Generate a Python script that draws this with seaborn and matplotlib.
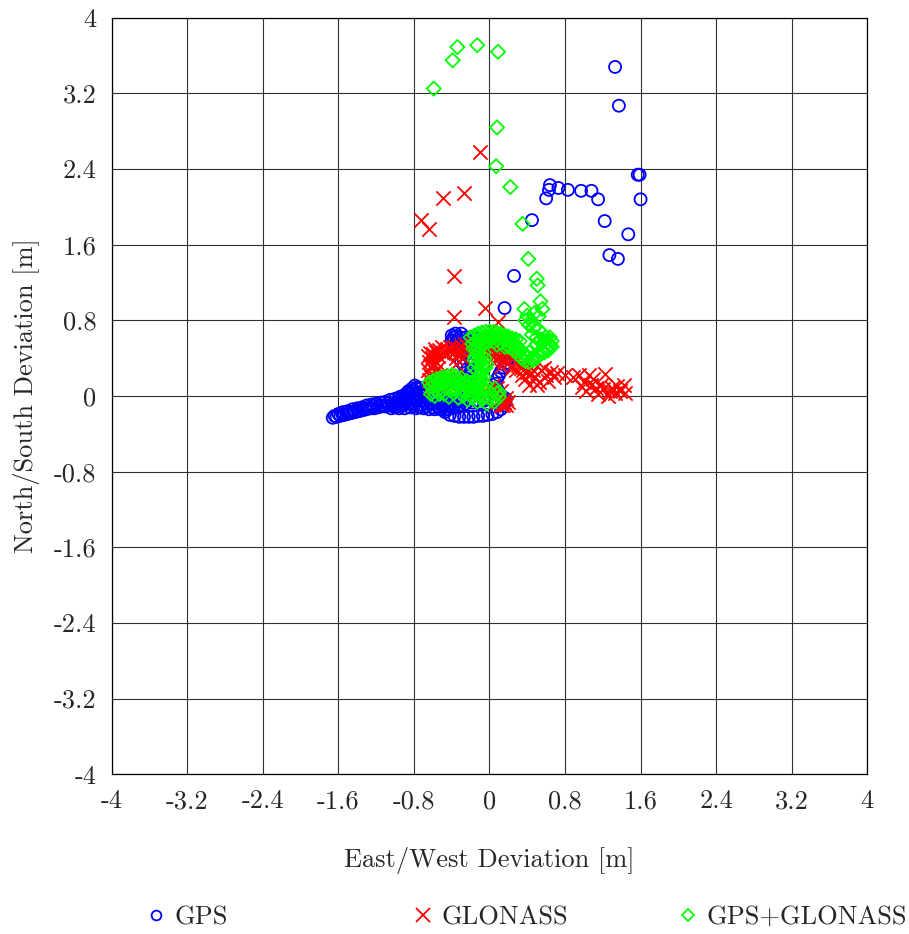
#%%
import pandas as pd
import numpy as np
import matplotlib.pyplot as plt
import seaborn as sns
#%% data (East/West, North/South in metres)
gps_pts = [
    # scattered fixes
    (1.33, 3.48), (1.37, 3.07), (1.57, 2.34), (1.59, 2.34), (1.60, 2.08), (0.64, 2.23),
    (0.63, 2.18), (0.73, 2.20), (0.83, 2.18), (0.97, 2.17), (1.08, 2.17), (1.15, 2.08),
    (0.60, 2.09), (0.45, 1.86), (1.22, 1.85), (1.47, 1.71), (1.27, 1.49), (1.36, 1.45),
    (0.26, 1.27), (0.16, 0.93),
    # tail, lower track
    (-1.66, -0.23), (-1.62, -0.22), (-1.58, -0.21), (-1.54, -0.20), (-1.50, -0.19),
    (-1.46, -0.18), (-1.42, -0.17), (-1.38, -0.16), (-1.34, -0.15), (-1.30, -0.14),
    (-1.26, -0.13), (-1.22, -0.13), (-1.18, -0.12), (-1.14, -0.11), (-1.10, -0.11),
    (-1.06, -0.10), (-1.02, -0.10), (-0.98, -0.09), (-0.94, -0.09), (-0.90, -0.08),
    (-0.86, -0.08), (-0.82, -0.08),
    # tail, upper track
    (-1.60, -0.19), (-1.55, -0.17), (-1.50, -0.16), (-1.45, -0.14), (-1.40, -0.13),
    (-1.35, -0.12), (-1.30, -0.10), (-1.25, -0.09), (-1.20, -0.08), (-1.15, -0.07),
    (-1.10, -0.06), (-1.05, -0.04), (-1.00, -0.03), (-0.95, -0.01), (-0.90, 0.01),
    (-0.86, 0.03), (-0.82, 0.05), (-0.78, 0.08),
    # tail, middle track
    (-1.64, -0.21), (-1.56, -0.19), (-1.48, -0.17), (-1.40, -0.15), (-1.32, -0.13),
    (-1.24, -0.11), (-1.16, -0.10), (-1.08, -0.08), (-1.04, -0.13), (-1.00, -0.12),
    (-0.96, -0.13),
    # blob
    (-0.98, -0.06), (-0.94, -0.04), (-0.92, -0.10), (-0.88, -0.02), (-0.86, -0.08),
    (-0.84, 0.02), (-0.82, -0.04), (-0.80, -0.10), (-0.78, 0.02), (-0.76, 0.09),
    (-0.76, -0.05), (-0.74, 0.04), (-0.72, -0.09), (-0.70, 0.00), (-0.68, -0.05),
    (-0.66, -0.11), (-0.64, -0.02), (-0.62, -0.07), (-0.60, -0.12), (-0.58, -0.03),
    (-0.56, -0.08), (-0.54, -0.12), (-0.52, -0.04), (-0.50, -0.09), (-0.48, -0.12),
    (-0.46, -0.06), (-0.43, -0.10), (-0.40, -0.07), (-0.37, -0.10), (-0.34, -0.06),
    (-0.31, -0.09), (-0.28, -0.05), (-0.25, -0.08), (-0.22, -0.04), (-0.18, -0.07),
    (-0.14, -0.05), (-0.10, -0.07), (-0.06, -0.05),
    (-1.00, -0.08), (-0.96, -0.02), (-0.92, 0.00), (-0.90, -0.13), (-0.88, -0.05),
    (-0.86, 0.05), (-0.84, -0.12), (-0.82, 0.08), (-0.80, -0.02), (-0.79, 0.11),
    (-0.78, -0.13), (-0.76, 0.00), (-0.74, -0.12), (-0.73, 0.08), (-0.71, 0.04),
    (-0.70, -0.13), (-0.68, 0.02), (-0.66, -0.08), (-0.64, -0.14), (-0.62, -0.01),
    (-0.60, -0.08), (-0.58, -0.14), (-0.56, -0.02), (-0.54, -0.06), (-0.52, -0.14),
    (-0.50, -0.02), (-0.48, -0.15), (-0.45, -0.03), (-0.44, -0.14), (-0.41, -0.04),
    (-0.39, -0.13), (-0.36, -0.04), (-0.33, -0.12), (-0.30, -0.03),
    # bottom loop
    (-0.47, -0.17), (-0.42, -0.20), (-0.37, -0.21), (-0.32, -0.22), (-0.27, -0.22),
    (-0.22, -0.22), (-0.17, -0.22), (-0.12, -0.21), (-0.07, -0.21), (-0.02, -0.20),
    (0.03, -0.19), (0.08, -0.17), (0.12, -0.14), (0.15, -0.10), (0.17, -0.06),
    (0.16, -0.02),
    # loop going up and round
    (-0.24, 0.04), (-0.24, 0.08), (-0.22, 0.13), (-0.21, 0.18), (-0.22, 0.23),
    (-0.24, 0.28), (-0.27, 0.32), (-0.30, 0.36), (-0.28, 0.40), (-0.25, 0.44),
    (-0.28, 0.48), (-0.32, 0.52), (-0.36, 0.56), (-0.40, 0.59), (-0.38, 0.62),
    (-0.35, 0.63), (-0.31, 0.62), (-0.25, 0.62), (-0.20, 0.62), (-0.15, 0.61),
    (-0.10, 0.60), (-0.05, 0.60), (0.00, 0.60), (0.05, 0.59), (0.10, 0.57),
    (0.14, 0.54), (0.17, 0.50), (0.19, 0.45), (0.20, 0.40), (0.18, 0.35),
    (0.15, 0.30), (0.12, 0.26), (0.10, 0.22), (0.08, 0.18), (0.07, 0.13),
    (0.08, 0.08), (0.10, 0.04), (0.13, 0.00),
    (-0.40, 0.64), (-0.38, 0.58), (-0.36, 0.66), (-0.33, 0.60), (-0.30, 0.66),
    (-0.28, 0.58), (-0.26, 0.18), (-0.19, 0.28), (-0.20, 0.38), (-0.17, 0.45),
]

glonass_pts = [
    # scattered fixes
    (-0.10, 2.58), (-0.49, 2.09), (-0.27, 2.15), (-0.73, 1.86), (-0.64, 1.77),
    (-0.38, 1.27), (-0.05, 0.93), (-0.38, 0.84), (0.09, 0.78),
    # left ring
    (-0.62, 0.12), (-0.64, 0.17), (-0.63, 0.22), (-0.65, 0.27), (-0.62, 0.31),
    (-0.64, 0.36), (-0.61, 0.40), (-0.60, 0.44), (-0.57, 0.47), (-0.53, 0.49),
    (-0.49, 0.46), (-0.45, 0.50), (-0.41, 0.48), (-0.38, 0.52), (-0.34, 0.50),
    (-0.60, 0.15), (-0.55, 0.16), (-0.50, 0.17), (-0.45, 0.18), (-0.40, 0.19),
    (-0.35, 0.20), (-0.58, 0.20), (-0.52, 0.22), (-0.55, 0.30), (-0.56, 0.35),
    (-0.36, 0.40), (-0.35, 0.34), (-0.65, 0.42), (-0.55, 0.42),
    (-0.63, 0.08), (-0.60, 0.10), (-0.56, 0.11), (-0.52, 0.12), (-0.48, 0.13),
    (-0.44, 0.13), (-0.40, 0.14), (-0.36, 0.15), (-0.32, 0.17), (-0.62, 0.20),
    (-0.58, 0.25), (-0.60, 0.34), (-0.63, 0.46), (-0.58, 0.50), (-0.50, 0.52),
    (-0.46, 0.45), (-0.42, 0.52), (-0.38, 0.47), (-0.33, 0.44), (-0.30, 0.48),
    (-0.28, 0.40),
    # top band and trail to the east
    (-0.30, 0.53), (-0.26, 0.55), (-0.22, 0.52), (-0.18, 0.55), (-0.14, 0.52),
    (-0.10, 0.55), (-0.06, 0.52), (-0.02, 0.54), (0.02, 0.55), (0.06, 0.52),
    (0.10, 0.50), (0.14, 0.48), (0.18, 0.45), (0.21, 0.42), (0.24, 0.39),
    (0.27, 0.36), (0.30, 0.33), (0.33, 0.30), (0.36, 0.27), (0.40, 0.25),
    (0.44, 0.23), (0.48, 0.20), (0.52, 0.15), (0.50, 0.12), (0.55, 0.28),
    (0.60, 0.22), (0.65, 0.25), (0.72, 0.24), (0.80, 0.22), (0.88, 0.20),
    (0.95, 0.22), (0.98, 0.10), (1.00, 0.15), (1.02, 0.05), (1.05, 0.22),
    (1.08, 0.12), (1.10, 0.18), (1.13, 0.08), (1.15, 0.02), (1.18, 0.12),
    (1.20, 0.07), (1.22, 0.23), (1.25, 0.00), (1.28, 0.05), (1.30, 0.09),
    (1.33, 0.03), (1.35, 0.11), (1.38, 0.05), (1.42, 0.12), (1.44, 0.03),
    (0.00, 0.45), (0.05, 0.42), (0.10, 0.40), (0.15, 0.38), (0.20, 0.35),
    (0.12, 0.32),
    (0.02, 0.50), (0.08, 0.46), (0.14, 0.44), (0.22, 0.46), (0.26, 0.42),
    (0.30, 0.38), (0.04, 0.36), (0.24, 0.30), (0.28, 0.27), (0.34, 0.22),
    (0.38, 0.18), (0.42, 0.12), (0.46, 0.28), (0.58, 0.30), (0.62, 0.16),
    (0.68, 0.20),
    # wedge near the origin
    (-0.05, 0.05), (0.00, 0.02), (0.05, 0.00), (0.10, -0.03), (0.15, -0.06),
    (0.12, 0.05), (0.08, 0.08), (0.18, -0.02), (0.14, -0.09),
    (-0.02, 0.10), (0.03, 0.06), (0.08, -0.06), (0.12, -0.10), (0.18, -0.10),
    (0.20, -0.06), (0.04, 0.12),
]

combo_pts = [
    # scattered fixes
    (-0.34, 3.69), (-0.13, 3.71), (0.09, 3.64), (-0.39, 3.55), (-0.59, 3.25),
    (0.08, 2.84), (0.07, 2.43), (0.22, 2.21), (0.35, 1.82), (0.41, 1.45),
    (0.50, 1.24), (0.51, 1.17), (0.54, 1.00), (0.37, 0.92),
    # loose group north-east of the origin
    (0.40, 0.85), (0.44, 0.80), (0.48, 0.88), (0.52, 0.84), (0.56, 0.92),
    (0.42, 0.75), (0.47, 0.72), (0.52, 0.70), (0.56, 0.66), (0.60, 0.62),
    (0.62, 0.57), (0.64, 0.53), (0.58, 0.58), (0.54, 0.60), (0.50, 0.55),
    (0.46, 0.50), (0.42, 0.46), (0.40, 0.42), (0.45, 0.40), (0.50, 0.44),
    (0.55, 0.48), (0.60, 0.50), (0.38, 0.80), (0.45, 0.65), (0.50, 0.62),
    # top band
    (-0.18, 0.55), (-0.14, 0.58), (-0.10, 0.60), (-0.06, 0.62), (-0.02, 0.63),
    (0.02, 0.64), (0.06, 0.63), (0.10, 0.62), (0.14, 0.60), (0.18, 0.59),
    (0.22, 0.57), (0.26, 0.55), (0.30, 0.52), (0.33, 0.48), (0.36, 0.45),
    (0.38, 0.42), (-0.12, 0.52), (-0.05, 0.56), (0.00, 0.58), (0.05, 0.58),
    (0.12, 0.56), (0.20, 0.52), (0.28, 0.47),
    (-0.20, 0.62), (-0.16, 0.64), (-0.12, 0.66), (-0.08, 0.67), (-0.04, 0.68),
    (0.00, 0.68), (0.04, 0.68), (0.08, 0.67), (0.12, 0.66), (0.16, 0.64),
    (0.20, 0.63), (0.24, 0.61), (0.28, 0.60), (0.32, 0.58), (-0.17, 0.50),
    (-0.08, 0.54), (0.08, 0.54), (0.16, 0.52), (0.24, 0.50),
    # arc to the east
    (0.34, 0.40), (0.38, 0.37), (0.42, 0.36), (0.46, 0.38), (0.50, 0.40),
    (0.54, 0.44), (0.58, 0.46), (0.62, 0.48), (0.66, 0.52), (0.66, 0.58),
    (0.64, 0.62), (0.30, 0.44), (0.26, 0.48),
    # column down
    (-0.14, 0.48), (-0.12, 0.44), (-0.10, 0.40), (-0.09, 0.36), (-0.08, 0.32),
    (-0.08, 0.28), (-0.09, 0.24), (-0.10, 0.20), (-0.11, 0.16), (-0.10, 0.12),
    (-0.08, 0.08), (-0.05, 0.05), (-0.15, 0.42), (-0.13, 0.34), (-0.13, 0.26),
    (-0.14, 0.18), (-0.16, 0.30), (-0.16, 0.38), (-0.04, 0.30), (-0.05, 0.40),
    (-0.06, 0.20), (-0.04, 0.12), (-0.12, 0.10), (-0.06, 0.46), (-0.03, 0.34),
    # bottom blob
    (-0.62, 0.10), (-0.58, 0.12), (-0.54, 0.14), (-0.50, 0.15), (-0.46, 0.16),
    (-0.42, 0.17), (-0.38, 0.18), (-0.34, 0.16), (-0.30, 0.14), (-0.26, 0.12),
    (-0.22, 0.10), (-0.18, 0.09), (-0.14, 0.08), (-0.60, 0.05), (-0.55, 0.06),
    (-0.50, 0.07), (-0.45, 0.08), (-0.40, 0.08), (-0.35, 0.07), (-0.30, 0.06),
    (-0.25, 0.04), (-0.20, 0.03), (-0.15, 0.02), (-0.10, 0.01), (-0.05, -0.01),
    (0.00, -0.02), (0.05, -0.02), (0.10, -0.01), (-0.58, 0.00), (-0.48, 0.02),
    (-0.38, 0.03), (-0.28, 0.00), (-0.18, -0.02), (-0.08, -0.04), (0.02, 0.02),
    (0.08, 0.03),
    (-0.64, 0.14), (-0.60, 0.16), (-0.56, 0.18), (-0.52, 0.19), (-0.48, 0.20),
    (-0.44, 0.21), (-0.40, 0.22), (-0.36, 0.21), (-0.62, 0.02), (-0.53, 0.02),
    (-0.43, -0.01), (-0.33, -0.02), (-0.23, -0.04), (-0.13, -0.06), (-0.03, -0.08),
    (0.05, -0.06), (0.10, 0.04), (0.06, 0.08), (-0.02, 0.06), (-0.24, 0.16),
    (-0.30, 0.19), (-0.20, 0.14),
]

series_names = ["GPS", "GLONASS", "GPS+GLONASS"]
tick_vals = [-4, -3.2, -2.4, -1.6, -0.8, 0, 0.8, 1.6, 2.4, 3.2, 4]
tick_labels = ["-4", "-3.2", "-2.4", "-1.6", "-0.8", "0", "0.8", "1.6", "2.4", "3.2", "4"]

#%% build frame
frames = []
for name, pts in zip(series_names, [gps_pts, glonass_pts, combo_pts]):
    d = pd.DataFrame(pts, columns=["ew", "ns"])
    d["system"] = name
    frames.append(d)
df = pd.concat(frames, ignore_index=True)

#%% plot
sns.set_style("white")
plt.rcParams["font.family"] = ["cmr10", "DejaVu Serif"]
plt.rcParams["mathtext.fontset"] = "cm"
plt.rcParams["axes.formatter.use_mathtext"] = True

fig = plt.figure(figsize=(9.09, 9.34), dpi=100)
ax = fig.add_axes([0.123, 0.171, 0.831, 0.810])

colors = {"GPS": "#0000ff", "GLONASS": "#ff0000", "GPS+GLONASS": "#00ff00"}
markers = {"GPS": "o", "GLONASS": "x", "GPS+GLONASS": "D"}
sizes = {"GPS": 75, "GLONASS": 105, "GPS+GLONASS": 52}
for name in series_names:
    sub = df[df["system"] == name]
    if name == "GLONASS":
        sns.scatterplot(data=sub, x="ew", y="ns", ax=ax, marker="x", s=sizes[name],
                        color=colors[name], linewidth=1.3, zorder=3)
    else:
        sns.scatterplot(data=sub, x="ew", y="ns", ax=ax, marker=markers[name], s=sizes[name],
                        facecolors="none", edgecolor=colors[name], linewidth=1.3, zorder=3)

ax.set_xlim(-4, 4)
ax.set_ylim(-4, 4)
ax.set_xticks(tick_vals)
ax.set_yticks(tick_vals)
ax.set_xticklabels(tick_labels)
ax.set_yticklabels(tick_labels)
ax.tick_params(labelsize=19, length=0, pad=11)
ax.grid(True, color="#303030", linewidth=0.8)
ax.set_axisbelow(True)
for sp in ax.spines.values():
    sp.set_color("black")
    sp.set_linewidth(0.9)
ax.set_xlabel("East/West Deviation [m]", fontsize=19, labelpad=24)
ax.set_ylabel("North/South Deviation [m]", fontsize=19, labelpad=10)

# legend entries spread along the bottom
handles = [
    plt.Line2D([], [], ls="none", marker="o", ms=7, mfc="none", mec="#0000ff", mew=1.3),
    plt.Line2D([], [], ls="none", marker="x", ms=10, color="#ff0000", mew=1.3),
    plt.Line2D([], [], ls="none", marker="D", ms=6, mfc="none", mec="#00ff00", mew=1.3),
]
for h, lab, x0 in zip(handles, series_names, [0.160, 0.454, 0.745]):
    fig.legend(handles=[h], labels=[lab], loc="center left", bbox_to_anchor=(x0, 0.018),
               frameon=False, fontsize=19, handlelength=0.8, handletextpad=0.3,
               borderpad=0, borderaxespad=0)

fig.savefig("out.png", dpi=100)
